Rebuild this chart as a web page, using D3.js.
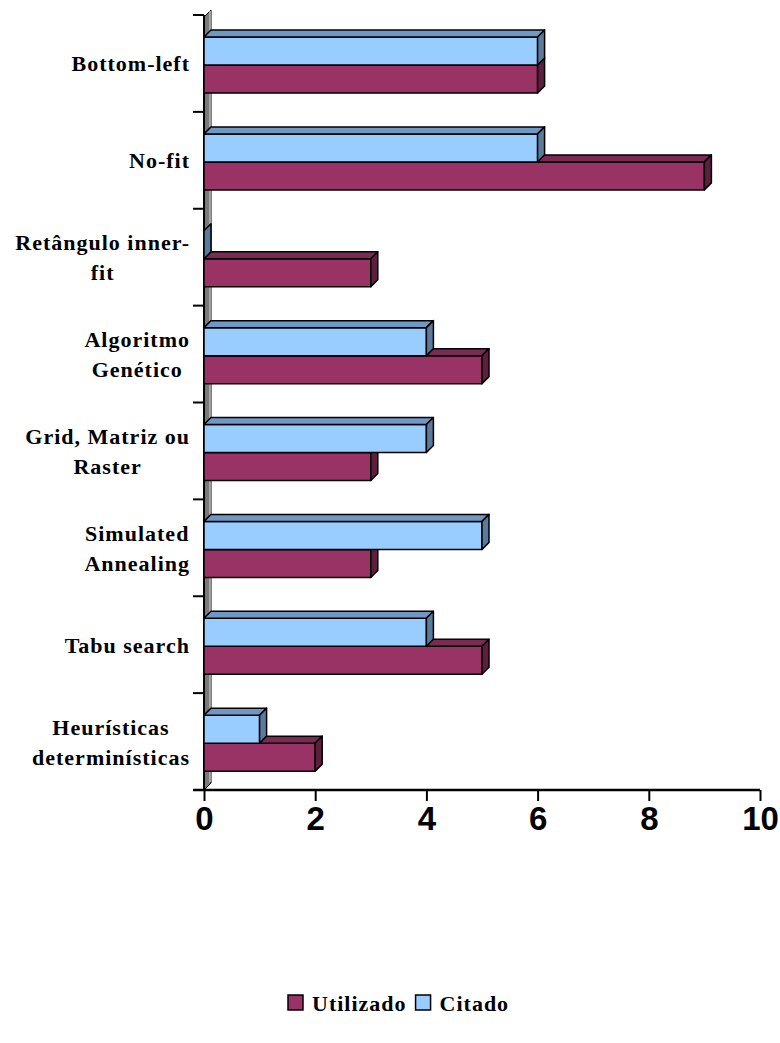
<!DOCTYPE html>
<html>
<head>
<meta charset="utf-8">
<script src="https://cdn.jsdelivr.net/npm/d3@7"></script>
<style>
  body { margin: 0; background: #fff; }
  svg { display: block; }
</style>
</head>
<body>
<div class="chart"></div>
<script>
'use strict';
(function() {
  // Data
  var categories = [
    'Bottom-left',
    'No-fit',
    'Retângulo inner-|fit',
    'Algoritmo|Genético',
    'Grid, Matriz ou|Raster',
    'Simulated|Annealing',
    'Tabu search',
    'Heurísticas|determinísticas'
  ];
  var utilizado = [6, 9, 3, 5, 3, 3, 5, 2];
  var citado = [6, 6, 0, 4, 4, 5, 4, 1];
  var xTicks = [0, 2, 4, 6, 8, 10];
  var seriesNames = ['Utilizado', 'Citado'];

  // Colors (front, top, side)
  var COLORS = {
    Utilizado: ['#993366', '#7b2a53', '#5e1f3f'],
    Citado: ['#99ccff', '#6f98c4', '#5b7b9c']
  };

  var w = 780;
  var h = 1043;
  var left = 204;
  var right = 760;
  var top = 15;
  var bottom = 790;
  var depth = 7;

  var svg = d3.select('.chart')
    .append('svg')
    .attr('width', w)
    .attr('height', h);

  var xScale = d3.scaleLinear().domain([0, 10]).range([left, right]);
  var yScale = d3.scaleBand().domain(categories).range([top, bottom]);
  // position of the two bars inside a band
  var yInner = d3.scaleBand().domain(['Citado', 'Utilizado']).range([22, 78]);

  // Wall
  svg.append('polygon')
    .attr('points', [[left, top + 2], [left + depth, top + 2 - depth], [left + depth, bottom - depth], [left, bottom]].join(' '))
    .attr('fill', '#7a7a7a')
    .attr('stroke', '#000')
    .attr('stroke-width', 1);
  svg.append('line')
    .attr('x1', left + depth - 1).attr('x2', left + depth - 1)
    .attr('y1', top + 3 - depth).attr('y2', bottom - depth - 1)
    .attr('stroke', '#bdbdbd')
    .attr('stroke-width', 1.5);

  // Y axis (category ticks on band edges)
  var edges = categories.map(function(c) { return yScale(c); }).concat([bottom]);
  svg.append('g')
    .selectAll('line')
    .data(edges)
    .enter()
    .append('line')
    .attr('x1', left - 11).attr('x2', left)
    .attr('y1', function(d) { return d; })
    .attr('y2', function(d) { return d; })
    .attr('stroke', '#000')
    .attr('stroke-width', 2);
  svg.append('line')
    .attr('x1', left).attr('x2', left)
    .attr('y1', top).attr('y2', bottom)
    .attr('stroke', '#000')
    .attr('stroke-width', 2);

  // X axis
  var xAxis = d3.axisBottom(xScale)
    .tickValues(xTicks)
    .tickSize(11)
    .tickPadding(6)
    .tickFormat(d3.format('d'));
  var gx = svg.append('g')
    .attr('transform', 'translate(0,' + bottom + ')')
    .call(xAxis);
  gx.select('.domain')
    .attr('d', 'M' + (left - 11) + ',0H' + right)
    .attr('stroke-width', 2.5);
  gx.selectAll('.tick line').attr('stroke-width', 2);
  gx.selectAll('.tick text')
    .attr('font-family', '"Liberation Sans", Arial, sans-serif')
    .attr('font-weight', 'bold')
    .attr('font-size', '33px')
    .attr('fill', '#000');

  // Bars: draw Utilizado first so Citado covers its top face
  var bars = [];
  categories.forEach(function(c, i) {
    bars.push({cat: c, series: 'Utilizado', value: utilizado[i]});
    bars.push({cat: c, series: 'Citado', value: citado[i]});
  });

  var barH = yInner.bandwidth();
  var g = svg.append('g').attr('class', 'data')
    .selectAll('g')
    .data(bars)
    .enter()
    .append('g');

  function pts(arr) { return arr.map(function(p) { return p.join(','); }).join(' '); }

  g.each(function(d) {
    var sel = d3.select(this);
    var x0 = xScale(0);
    var x1 = xScale(d.value);
    var y = yScale(d.cat) + yInner(d.series);
    var c = COLORS[d.series];
    if (x1 > x0) {
      sel.append('rect')
        .attr('x', x0).attr('y', y)
        .attr('width', x1 - x0).attr('height', barH)
        .attr('fill', c[0]);
      sel.append('polygon')
        .attr('points', pts([[x0, y], [x0 + depth, y - depth], [x1 + depth, y - depth], [x1, y]]))
        .attr('fill', c[1]);
    }
    sel.append('polygon')
      .attr('points', pts([[x1, y], [x1 + depth, y - depth], [x1 + depth, y + barH - depth], [x1, y + barH]]))
      .attr('fill', c[2]);
    sel.selectAll('rect, polygon')
      .attr('stroke', '#000')
      .attr('stroke-width', 1.5)
      .attr('stroke-linejoin', 'round');
  });

  // Category labels (multi-line, centred lines, block right-aligned)
  var labelRight = 190;
  var lineH = 30;
  categories.forEach(function(c) {
    var lines = c.split('|');
    var cy = yScale(c) + yScale.bandwidth() / 2;
    var t = svg.append('text')
      .attr('font-family', '"Liberation Serif", "Times New Roman", serif')
      .attr('font-weight', 'bold')
      .attr('font-size', '22px')
      .attr('letter-spacing', '1px')
      .attr('text-anchor', 'middle')
      .attr('fill', '#000');
    var spans = lines.map(function(l, i) {
      return t.append('tspan')
        .attr('y', cy + 8 + (i - (lines.length - 1) / 2) * lineH)
        .text(l);
    });
    var maxW = d3.max(spans, function(s) { return s.node().getComputedTextLength(); });
    spans.forEach(function(s) { s.attr('x', labelRight - maxW / 2); });
  });

  // Legend
  var legend = svg.append('g').attr('transform', 'translate(288,995)');
  var lx = 0;
  seriesNames.forEach(function(name) {
    legend.append('rect')
      .attr('x', lx).attr('y', 0)
      .attr('width', 15).attr('height', 15)
      .attr('fill', COLORS[name][0])
      .attr('stroke', '#000')
      .attr('stroke-width', 1.5);
    var txt = legend.append('text')
      .attr('x', lx + 24).attr('y', 16)
      .attr('font-family', '"Liberation Serif", "Times New Roman", serif')
      .attr('font-weight', 'bold')
      .attr('font-size', '22px')
      .attr('letter-spacing', '1px')
      .text(name);
    lx += 24 + txt.node().getComputedTextLength() + 9;
  });
})();
</script>
</body>
</html>
